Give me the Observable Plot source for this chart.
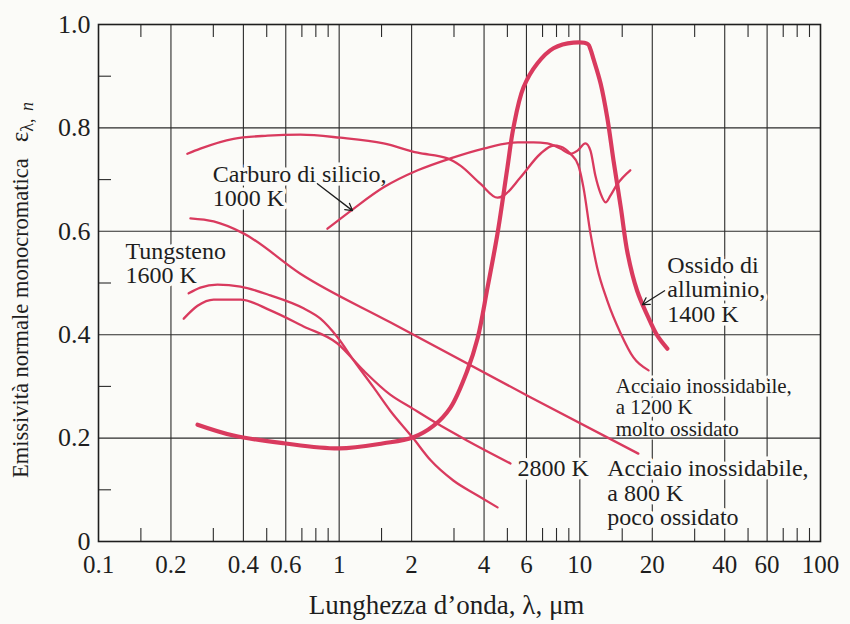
<!DOCTYPE html>
<html><head><meta charset="utf-8">
<script src="https://cdn.jsdelivr.net/npm/d3@7"></script>
<script src="https://cdn.jsdelivr.net/npm/@observablehq/plot@0.6"></script>
<style>
html,body{margin:0;padding:0;background:#fbfbf8;}
#chart{width:850px;height:624px;}
</style></head><body><div id="chart"></div>
<script>
// ---- axes ----
const xTicks = [0.1, 0.2, 0.4, 0.6, 1, 2, 4, 6, 10, 20, 40, 60, 100];
const xGrid = [0.2, 0.4, 0.6, 1, 2, 4, 6, 10, 20, 40, 60];
const xMinor = [0.15, 0.3, 0.5, 0.7, 0.8, 0.9, 1.5, 3, 5, 7, 8, 9, 15, 30, 50, 70, 80, 90];
const yTicks = [0, 0.2, 0.4, 0.6, 0.8, 1.0];
const yGrid = [0.2, 0.4, 0.6, 0.8];
const yMinor = [0.1, 0.3, 0.5, 0.7, 0.9];
const xLabel = "Lunghezza d’onda, λ, μm";

// ---- series (wavelength µm, emissivity) ----
const alOxideLambda = [0.258,0.364,0.588,1.0,1.53,2.02,2.47,2.90,3.41,3.76,4.13,4.55,5.00,5.30,5.83,6.67,7.77,9.40,10.8,11.07,11.4,12.2,13.0,13.8,14.8,15.8,17.3,19.1,21.0,23.1];
const alOxideEps    = [0.226,0.205,0.190,0.180,0.190,0.201,0.224,0.259,0.331,0.393,0.490,0.596,0.723,0.801,0.878,0.925,0.954,0.965,0.962,0.952,0.933,0.886,0.820,0.737,0.646,0.557,0.485,0.437,0.398,0.373];

const ss1200Lambda = [0.234,0.265,0.364,0.504,0.690,1.01,1.53,2.12,2.82,3.19,3.86,4.55,4.82,5.66,6.86,7.77,8.30,9.14,9.87,10.35,11.07,11.8,13.0,14.8,16.7,19.3];
const ss1200Eps    = [0.750,0.760,0.779,0.785,0.787,0.781,0.770,0.752,0.741,0.727,0.692,0.665,0.669,0.704,0.750,0.766,0.764,0.750,0.727,0.685,0.596,0.530,0.466,0.402,0.356,0.331];

const sicLambda = [0.894,1.15,1.53,2.12,2.90,3.98,5.51,6.42,7.33,8.30,9.14,9.78,10.55,11.07,11.6,12.2,12.8,13.4,14.3,16.2];
const sicEps    = [0.605,0.644,0.685,0.718,0.741,0.760,0.772,0.772,0.770,0.760,0.750,0.756,0.770,0.756,0.708,0.673,0.656,0.669,0.691,0.718];

const ss800Lambda = [0.241,0.301,0.400,0.690,1.63,6.23,17.5];
const ss800Eps    = [0.625,0.619,0.596,0.518,0.424,0.279,0.170];

const w1600Lambda = [0.237,0.265,0.312,0.389,0.518,0.711,0.836,0.984,1.15,1.39,1.63,2.02,2.40,2.98,3.76,4.55];
const w1600Eps    = [0.480,0.491,0.497,0.493,0.476,0.451,0.431,0.395,0.350,0.298,0.253,0.201,0.157,0.118,0.089,0.066];

const w2800Lambda = [0.226,0.258,0.301,0.389,0.518,0.711,0.984,1.26,1.63,2.02,2.47,3.41,5.15];
const w2800Eps    = [0.431,0.456,0.468,0.468,0.447,0.416,0.383,0.331,0.284,0.257,0.232,0.195,0.151];

// ---- annotations ----
const labelText = ["Carburo di silicio,\n1000 K", "Tungsteno\n1600 K", "Ossido di\nalluminio,\n1400 K",
  "Acciaio inossidabile,\na 1200 K\nmolto ossidato", "2800 K", "Acciaio inossidabile,\na 800 K\npoco ossidato"];
const labelLambda = [0.298, 0.1295, 23.1, 14.1, 5.51, 13.0];
const labelEps    = [0.729, 0.580, 0.553, 0.318, 0.160, 0.160];

const arrowFromLambda = [0.812, 22.5];
const arrowFromEps    = [0.692, 0.485];
const arrowToLambda   = [1.136, 18.2];
const arrowToEps      = [0.640, 0.458];

// ---- build tables ----
const toRows = (name, L, E) => L.map((l, i) => ({series: name, lambda: l, eps: E[i]}));
const thick = toRows("Ossido di alluminio 1400 K", alOxideLambda, alOxideEps);
const thin = [
  ...toRows("Acciaio 1200 K", ss1200Lambda, ss1200Eps),
  ...toRows("Carburo di silicio 1000 K", sicLambda, sicEps),
  ...toRows("Acciaio 800 K", ss800Lambda, ss800Eps),
  ...toRows("Tungsteno 1600 K", w1600Lambda, w1600Eps),
  ...toRows("Tungsteno 2800 K", w2800Lambda, w2800Eps)
];
const labels = labelText.map((t, i) => ({text: t, lambda: labelLambda[i], eps: labelEps[i]}));
const arrows = arrowFromLambda.map((l, i) => ({x1: l, y1: arrowFromEps[i], x2: arrowToLambda[i], y2: arrowToEps[i]}));

const BG = "#fbfbf8";
const RED = "#d93a5e";
const INK = "#1e1e1e";
const GRID = "#2b2b2b";

const labelStyle = {x: "lambda", y: "eps", text: "text", textAnchor: "start", lineAnchor: "top",
  fill: INK, stroke: BG, strokeWidth: 7, paintOrder: "stroke", strokeLinejoin: "round"};

const chart = Plot.plot({
  width: 850,
  height: 624,
  marginLeft: 98,
  marginRight: 30,
  marginTop: 24,
  marginBottom: 83,
  style: {fontFamily: "'Liberation Serif', 'Times New Roman', serif", background: BG, color: INK},
  x: {type: "log", domain: [0.1, 100], axis: null},
  y: {domain: [0, 1]},
  marks: [
    Plot.ruleX(xGrid, {stroke: GRID, strokeWidth: 1.1}),
    Plot.ruleX(xMinor, {stroke: GRID, strokeWidth: 1.1, insetTop: 504}),
    Plot.ruleX(xMinor, {stroke: GRID, strokeWidth: 1.1, insetBottom: 504}),
    Plot.ruleY(yMinor, {stroke: GRID, strokeWidth: 1.1, insetRight: 709}),
    Plot.text(labels.filter((d, i) => i === 3), {...labelStyle, fontSize: 21, lineHeight: 1.04}),
    Plot.text(labels.filter((d, i) => i !== 3), {...labelStyle, fontSize: 24, lineHeight: 1.02}),
    Plot.ruleY(yGrid, {stroke: GRID, strokeWidth: 1.1}),
    Plot.frame({stroke: INK, strokeWidth: 1.6}),
    Plot.line(thin, {x: "lambda", y: "eps", z: "series", stroke: RED, strokeWidth: 2.3, curve: "monotone-x"}),
    Plot.line(thick, {x: "lambda", y: "eps", stroke: RED, strokeWidth: 4.2, curve: "catmull-rom"}),
    Plot.arrow(arrows, {x1: "x1", y1: "y1", x2: "x2", y2: "y2", stroke: INK, strokeWidth: 1.3, headLength: 9}),
    Plot.text(xTicks, {x: d => d, text: d => String(d), frameAnchor: "bottom", lineAnchor: "top", dy: 14, fontSize: 25, fill: INK}),
    Plot.axisY({ticks: yTicks, tickFormat: d => d === 0 ? "0" : d.toFixed(1), tickSize: 0, tickPadding: 8, fontSize: 26, label: null}),
    Plot.text([xLabel], {text: d => d, frameAnchor: "bottom", dy: 64, dx: -13, fontSize: 27, lineAnchor: "middle", fill: INK})
  ]
});

const svg = d3.select(chart);
const yl = svg.append("text")
  .attr("transform", "translate(28,290) rotate(-90)")
  .attr("text-anchor", "middle")
  .attr("font-family", "'Liberation Serif', 'Times New Roman', serif")
  .attr("font-size", 22.5)
  .attr("fill", INK);
yl.append("tspan").text("Emissività normale monocromatica");
yl.append("tspan").attr("dx", 16).attr("font-size", 25).text("ε");
yl.append("tspan").attr("font-size", 18).attr("dy", 5).text("λ, ");
yl.append("tspan").attr("font-size", 18).attr("dx", 3).attr("font-style", "italic").text("n");

document.getElementById("chart").appendChild(chart);
</script></body></html>
